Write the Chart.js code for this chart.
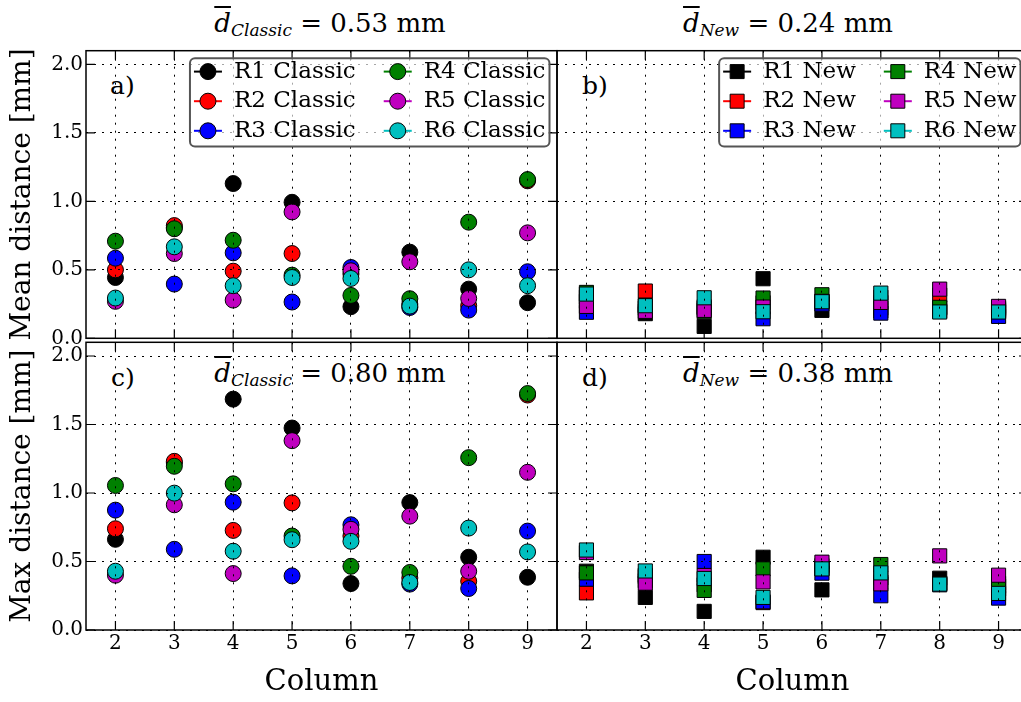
<!DOCTYPE html>
<html>
<head>
<meta charset="utf-8">
<script src="https://cdn.jsdelivr.net/npm/chart.js@4.4.0/dist/chart.umd.min.js"></script>
<style>
html, body { margin: 0; padding: 0; background: #fff; overflow: hidden; }
#wrap { position: relative; width: 1021px; height: 702px; overflow: hidden; background: #fff; }
#wrap canvas { position: absolute; left: 0; top: 0; z-index: 1; }
.txt { position: absolute; z-index: 0; font-family: 'DejaVu Serif', serif; white-space: nowrap; color: #000; }
.ttl { font-size: 26px; line-height: 26px; width: 400px; text-align: center; }
.lbl { font-size: 25px; line-height: 25px; }
.dbar { font-style: italic; text-decoration: overline; }
.sub { font-style: italic; font-size: 17px; position: relative; top: 4px; }
</style>
</head>
<body>
<div id="wrap">
  <div class="txt ttl" style="left:130px; top:10px;"><span class="dbar">d</span><span class="sub">Classic</span> = 0.53 mm</div>
  <div class="txt ttl" style="left:588px; top:10px;"><span class="dbar">d</span><span class="sub">New</span> = 0.24 mm</div>
  <div class="txt ttl" style="left:130px; top:360px;"><span class="dbar">d</span><span class="sub">Classic</span> = 0.80 mm</div>
  <div class="txt ttl" style="left:588px; top:360px;"><span class="dbar">d</span><span class="sub">New</span> = 0.38 mm</div>
  <div class="txt lbl" style="left:110px; top:73px;">a)</div>
  <div class="txt lbl" style="left:582px; top:73px;">b)</div>
  <div class="txt lbl" style="left:111px; top:365px;">c)</div>
  <div class="txt lbl" style="left:582px; top:365px;">d)</div>
  <canvas id="chartA" width="1040" height="702" style="width:1040px;height:702px"></canvas>
  <canvas id="chartB" width="1040" height="702" style="width:1040px;height:702px"></canvas>
  <canvas id="chartC" width="1040" height="702" style="width:1040px;height:702px"></canvas>
  <canvas id="chartD" width="1040" height="702" style="width:1040px;height:702px"></canvas>
</div>
<script>
// Data (rows R1..R6, one value per column 2..9)
const columns = [2, 3, 4, 5, 6, 7, 8, 9];
const yTicks = [0, 0.5, 1.0, 1.5, 2.0];
const seriesNames = ['R1', 'R2', 'R3', 'R4', 'R5', 'R6'];
const seriesColors = ['#000000', '#ff0000', '#0000ff', '#008000', '#bf00bf', '#00bfbf'];

const meanClassic = [
    [0.444, 0.81, 1.13, 0.993, 0.231, 0.629, 0.359, 0.26],
    [0.50, 0.823, 0.49, 0.619, 0.47, 0.25, 0.238, 1.15],
    [0.585, 0.396, 0.624, 0.265, 0.517, 0.225, 0.206, 0.486],
    [0.709, 0.80, 0.716, 0.461, 0.313, 0.289, 0.848, 1.159],
    [0.27, 0.619, 0.279, 0.923, 0.493, 0.559, 0.291, 0.77],
    [0.294, 0.668, 0.384, 0.444, 0.437, 0.235, 0.50, 0.384]
];
const meanNew = [
    [0.27, 0.18, 0.087, 0.435, 0.204, 0.20, 0.22, 0.20],
    [0.30, 0.345, 0.22, 0.26, 0.27, 0.22, 0.316, 0.22],
    [0.19, 0.22, 0.23, 0.143, 0.25, 0.184, 0.20, 0.16],
    [0.335, 0.24, 0.194, 0.294, 0.318, 0.30, 0.226, 0.21],
    [0.233, 0.197, 0.204, 0.228, 0.27, 0.262, 0.359, 0.233],
    [0.323, 0.238, 0.296, 0.194, 0.267, 0.33, 0.192, 0.192]
];
const maxClassic = [
    [0.662, 1.22, 1.685, 1.474, 0.339, 0.93, 0.531, 0.385],
    [0.739, 1.231, 0.727, 0.928, 0.686, 0.38, 0.356, 1.715],
    [0.875, 0.589, 0.933, 0.395, 0.768, 0.335, 0.303, 0.722],
    [1.055, 1.195, 1.067, 0.686, 0.465, 0.42, 1.258, 1.726],
    [0.40, 0.914, 0.412, 1.382, 0.735, 0.831, 0.429, 1.151],
    [0.429, 0.999, 0.575, 0.659, 0.647, 0.347, 0.744, 0.57]
];
const maxNew = [
    [0.429, 0.238, 0.136, 0.531, 0.293, 0.35, 0.378, 0.30],
    [0.271, 0.39, 0.33, 0.20, 0.45, 0.38, 0.34, 0.32],
    [0.371, 0.36, 0.50, 0.206, 0.415, 0.25, 0.33, 0.233],
    [0.417, 0.40, 0.289, 0.446, 0.47, 0.478, 0.34, 0.34],
    [0.565, 0.342, 0.398, 0.351, 0.495, 0.337, 0.541, 0.40],
    [0.584, 0.431, 0.376, 0.238, 0.446, 0.417, 0.335, 0.267]
];

const W = 1040, H = 702;
const SERIF = "'DejaVu Serif', serif";

// box, and inward ticks like the matplotlib axes
function framePlugin(leftTicks) {
    return {
        id: 'frame',
        afterDraw(chart) {
            const { ctx, chartArea: a, scales } = chart;
            ctx.save();
            ctx.strokeStyle = '#000';
            ctx.lineWidth = 1.5;
            ctx.strokeRect(a.left, a.top, a.right - a.left, a.bottom - a.top);
            ctx.lineWidth = 1.2;
            const L = 9;
            ctx.beginPath();
            scales.x.ticks.forEach(t => {
                const px = scales.x.getPixelForValue(t.value);
                ctx.moveTo(px, a.bottom); ctx.lineTo(px, a.bottom - L);
                ctx.moveTo(px, a.top); ctx.lineTo(px, a.top + L);
            });
            scales.y.ticks.forEach(t => {
                const py = scales.y.getPixelForValue(t.value);
                if (leftTicks) { ctx.moveTo(a.left, py); ctx.lineTo(a.left + L, py); }
                ctx.moveTo(a.right, py); ctx.lineTo(a.right - L, py);
            });
            ctx.stroke();
            ctx.restore();
        }
    };
}

// two-column boxed legend in the upper right corner
function legendPlugin(square) {
    return {
        id: 'boxLegend',
        afterDraw(chart) {
            const { ctx, chartArea: a } = chart;
            const ds = chart.data.datasets;
            ctx.save();
            ctx.font = '23px ' + SERIF;
            const textW = Math.max(...ds.map(d => ctx.measureText(d.label).width));
            const pad = 4, handle = 28, gap = 12, colGap = 28, rowH = 29.6;
            const colW = handle + gap + textW;
            const boxW = pad * 2 + colW * 2 + colGap;
            const boxH = 88.4;
            const x0 = a.right - 7.5 - boxW, y0 = a.top + 7.5;

            ctx.beginPath();
            ctx.roundRect(x0, y0, boxW, boxH, 5);
            ctx.fillStyle = 'rgba(255,255,255,0.65)';
            ctx.fill();
            ctx.lineWidth = 2;
            ctx.strokeStyle = '#555';
            ctx.stroke();

            ds.forEach((d, i) => {
                const col = Math.floor(i / 3), row = i % 3;
                const hx = x0 + pad + col * (colW + colGap);
                const y = y0 + 13.4 + row * rowH;
                ctx.beginPath();
                ctx.moveTo(hx, y); ctx.lineTo(hx + handle, y);
                ctx.strokeStyle = d.borderColor;
                ctx.lineWidth = 2;
                ctx.stroke();
                ctx.beginPath();
                if (square) ctx.rect(hx + handle / 2 - 7, y - 7, 14, 14);
                else ctx.arc(hx + handle / 2, y, 8, 0, Math.PI * 2);
                ctx.fillStyle = d.pointBackgroundColor;
                ctx.fill();
                ctx.strokeStyle = '#000';
                ctx.lineWidth = 1;
                ctx.stroke();
                ctx.fillStyle = '#000';
                ctx.textBaseline = 'middle';
                ctx.textAlign = 'left';
                ctx.fillText(d.label, hx + handle + gap, y);
            });
            ctx.restore();
        }
    };
}

function makePanel(id, area, values, suffix, square, showX, yTitle) {
    const datasets = values.map((vals, i) => ({
        label: seriesNames[i] + ' ' + suffix,
        data: columns.map((c, j) => ({ x: c, y: vals[j] })),
        borderColor: seriesColors[i],
        pointBackgroundColor: seriesColors[i],
        pointBorderColor: '#000',
        pointBorderWidth: 1,
        pointStyle: square ? 'rect' : 'circle',
        pointRadius: square ? 10 : 8,
        order: 6 - i
    }));

    const gridOpts = { color: '#000', lineWidth: 1, drawTicks: false, z: 1 };
    const borderOpts = { display: false, dash: [2, 6] };

    return new Chart(document.getElementById(id), {
        type: 'scatter',
        data: { datasets },
        options: {
            responsive: false,
            animation: false,
            events: [],
            layout: { padding: { left: 0, top: area.t, right: W - area.r, bottom: 0 } },
            plugins: { legend: { display: false }, tooltip: { enabled: false } },
            scales: {
                x: {
                    type: 'linear', min: 1.5, max: 9.5,
                    afterBuildTicks: s => { s.ticks = columns.map(v => ({ value: v })); },
                    afterFit: s => { s.height = H - area.b; },
                    grid: gridOpts,
                    border: borderOpts,
                    ticks: { display: showX, padding: 2, color: '#000', font: { family: SERIF, size: 20 }, callback: v => String(v) },
                    title: { display: showX, text: 'Column', color: '#000', font: { family: SERIF, size: 29 }, padding: { top: 0, bottom: 2.6 } }
                },
                y: {
                    type: 'linear', min: 0, max: 2.1,
                    afterBuildTicks: s => { s.ticks = yTicks.map(v => ({ value: v })); },
                    afterFit: s => { s.width = area.l; },
                    grid: gridOpts,
                    border: borderOpts,
                    ticks: { display: !!yTitle, padding: 3, color: '#000', font: { family: SERIF, size: 20 }, callback: v => v.toFixed(1) },
                    title: { display: !!yTitle, text: yTitle || '', color: '#000', font: { family: SERIF, size: 28 }, padding: { top: 5.5, bottom: 0 } }
                }
            }
        },
        plugins: [framePlugin(!!yTitle), legendPlugin(square)].filter((p, k) => k === 0 || !showX)
    });
}

makePanel('chartA', { l: 86, t: 50.7, r: 557, b: 338.3 }, meanClassic, 'Classic', false, false, 'Mean distance [mm]');
makePanel('chartB', { l: 557, t: 50.7, r: 1028, b: 338.3 }, meanNew, 'New', true, false, null);
makePanel('chartC', { l: 86, t: 342.3, r: 557, b: 630 }, maxClassic, 'Classic', false, true, 'Max distance [mm]');
makePanel('chartD', { l: 557, t: 342.3, r: 1028, b: 630 }, maxNew, 'New', true, true, null);
</script>
</body>
</html>
